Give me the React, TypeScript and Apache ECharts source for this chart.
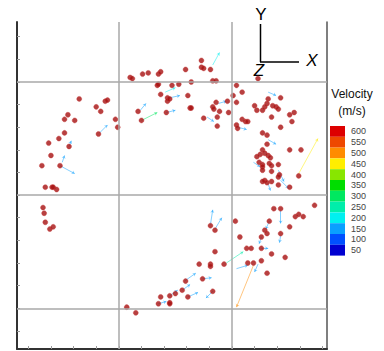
import React, { useEffect, useRef } from "react";
import * as echarts from "echarts";

// Particle positions (mm)
const dots: [number, number][] = [
  [-65, 107], [-59, 107], [-58, 107], [-55, 105], [-67, 89], [-66, 84], [-65, 76], [-61, 70], [-58, 72],
  [-68, 126], [-52, 126], [-60, 135], [-62, 146], [-44, 143], [-53, 150], [-48, 155], [-45, 171], [-48, 167],
  [-39, 166], [-35, 185], [-20, 178], [-16, 174], [-12, 183], [-10, 184], [-3, 167], [-1, 160], [-18, 154],
  [17, 174], [20, 166], [10, 204], [12, 203], [21, 207], [26, 208], [35, 207], [37, 209], [34, 197], [35, 198],
  [47, 197], [53, 198], [37, 189], [43, 186], [43, 183], [45, 185], [61, 188], [63, 177], [42, 173], [59, 211],
  [73, 219], [73, 213], [75, 212], [81, 211], [83, 201], [86, 201], [64, 200], [104, 197], [123, 203], [109, 191],
  [101, 188], [86, 182], [96, 183], [104, 182], [83, 178], [84, 176], [89, 174], [64, 177], [97, 173], [87, 169],
  [75, 168], [87, 161], [104, 162], [105, 159], [109, 167], [112, 165], [114, 165], [132, 185], [131, 181],
  [129, 178], [143, 186], [136, 179], [139, 178], [141, 176], [120, 179], [122, 175], [127, 175], [135, 169],
  [151, 171], [155, 173], [153, 165], [143, 160], [127, 155], [131, 153], [131, 145], [151, 140], [161, 140],
  [127, 140], [129, 137], [125, 136], [122, 134], [132, 135], [134, 133], [124, 129], [127, 127], [133, 128],
  [135, 126], [127, 125], [127, 122], [135, 121], [141, 127], [142, 118], [141, 116], [129, 113], [131, 111],
  [127, 112], [135, 112], [141, 109], [151, 107], [159, 117],
  [173, 91], [137, 88], [143, 88], [156, 81], [159, 83], [163, 81], [133, 77], [151, 72], [129, 69], [131, 66],
  [126, 63], [143, 66], [103, 77], [107, 63], [81, 73], [85, 69], [113, 53], [117, 53], [126, 53], [85, 50],
  [135, 48], [147, 45], [93, 39], [114, 40], [119, 40], [126, 42], [131, 31], [71, 39], [81, 39], [81, 37],
  [74, 26], [59, 24], [56, 16], [83, 15], [61, 10], [50, 13], [45, 11], [37, 10], [35, 4], [45, 5], [45, 4],
  [7, 1], [15, -4],
];

// Velocity vectors: [x0, y0, x1, y1, speed m/s]
const arrows: [number, number, number, number, number][] = [
  [-52, 126, -39, 119, 150], [-50, 129, -48, 135, 150], [-44, 143, -42, 148, 150], [-17, 155, -10, 162, 150],
  [19, 175, 24, 181, 150], [20, 166, 34, 173, 300], [41, 191, 50, 195, 200], [45, 186, 54, 188, 150],
  [42, 173, 50, 175, 150], [83, 215, 89, 226, 200], [132, 191, 139, 188, 150], [88, 181, 95, 183, 150],
  [78, 169, 84, 165, 150], [105, 160, 113, 158, 150], [132, 149, 139, 145, 150], [119, 129, 125, 125, 150],
  [141, 122, 146, 112, 150], [143, 113, 150, 106, 150], [132, 110, 134, 104, 150], [159, 119, 176, 150, 450],
  [81, 74, 83, 87, 150], [85, 70, 91, 80, 150], [143, 86, 143, 75, 150], [143, 64, 142, 58, 150],
  [123, 39, 120, 32, 150], [104, 35, 114, 38, 150], [95, 40, 110, 50, 250], [119, 38, 104, 1, 500],
  [45, 11, 52, 16, 150], [58, 24, 68, 31, 150], [61, 10, 70, 14, 150], [35, 4, 42, 6, 150],
  [56, 16, 63, 21, 150], [74, 26, 82, 27, 150], [83, 15, 77, 9, 150], [126, 53, 132, 53, 150],
  [133, 77, 130, 70, 150], [126, 63, 124, 57, 150],
];

const speedLevels = [50, 100, 150, 200, 250, 300, 350, 400, 450, 500, 550, 600];
const speedColors = [
  "#0000d0", "#0050ff", "#0aa0ff", "#00f0f0", "#00eeaa", "#00e860",
  "#00dd00", "#88e600", "#ffee00", "#ff8c00", "#ee4800", "#dd0000",
];

const gridX = [0, 100];
const gridY = [0, 100, 200];
const ticksX = [-80, -60, -40, -20, 0, 20, 40, 60, 80, 100, 120, 140, 160, 180];
const ticksY = [-20, 0, 20, 40, 60, 80, 100, 120, 140, 160, 180, 200, 220, 240];

function colorFor(v: number): string {
  let idx = 0;
  let best = Infinity;
  speedLevels.forEach((l, i) => {
    const d = Math.abs(l - v);
    if (d < best) { best = d; idx = i; }
  });
  return speedColors[idx];
}

export default function App() {
  const ref = useRef<HTMLDivElement>(null);
  useEffect(() => {
    document.body.style.margin = "0";
    const chart = echarts.init(ref.current!, undefined, { renderer: "svg" });
    const font = "Liberation Sans, Arial, sans-serif";
    chart.setOption({
      animation: false,
      backgroundColor: "#ffffff",
      grid: { left: 17, top: 22, width: 310, height: 327 },
      xAxis: {
        type: "value", min: -90, max: 184,
        axisLine: { show: true, onZero: false, lineStyle: { color: "#333", width: 2 } },
        axisTick: { show: true, inside: true, length: 3, customValues: ticksX, lineStyle: { color: "#999" } },
        axisLabel: { show: false },
        splitLine: { show: false },
      },
      yAxis: [
        {
          type: "value", min: -36, max: 253,
          axisLine: { show: true, onZero: false, lineStyle: { color: "#333", width: 2 } },
          axisTick: { show: true, inside: true, length: 3, customValues: ticksY, lineStyle: { color: "#999" } },
          axisLabel: { show: false },
          splitLine: { show: false },
        },
        {
          type: "value", min: -36, max: 253, position: "right",
          axisLine: { show: true, onZero: false, lineStyle: { color: "#555", width: 1.5 } },
          axisTick: { show: false },
          axisLabel: { show: false },
          splitLine: { show: false },
        },
      ],
      visualMap: {
        type: "piecewise",
        seriesIndex: 2,
        orient: "vertical",
        align: "left",
        left: 330,
        top: 126,
        padding: 0,
        itemWidth: 15,
        itemHeight: 10.8,
        itemGap: 0,
        itemSymbol: "rect",
        textGap: 6,
        hoverLink: false,
        selectedMode: false,
        pieces: speedLevels.map((l, i) => ({ min: l - 25, max: l + 25, label: String(l), color: speedColors[i] })),
        textStyle: { color: "#444", fontSize: 9, fontFamily: font },
      },
      series: [
        {
          type: "lines",
          coordinateSystem: "cartesian2d",
          z: 2,
          silent: true,
          symbol: ["none", "arrow"],
          symbolSize: 3,
          lineStyle: { width: 1, opacity: 0.5 },
          data: arrows.map((a) => ({
            coords: [[a[0], a[1]], [a[2], a[3]]],
            lineStyle: { color: colorFor(a[4]) },
          })),
        },
        {
          type: "scatter",
          z: 3,
          silent: true,
          symbol: "circle",
          symbolSize: 5,
          itemStyle: { color: "#a51010", borderColor: "#c83a3a", borderWidth: 0.5 },
          data: dots,
          markLine: {
            silent: true,
            symbol: "none",
            label: { show: false },
            lineStyle: { color: "#a8a8a8", width: 1.5, type: "solid" },
            data: [
              ...gridX.map((v) => ({ xAxis: v })),
              ...gridY.map((v) => ({ yAxis: v })),
            ],
          },
        },
        { type: "scatter", data: [] },
      ],
      graphic: [
        { type: "line", shape: { x1: 260.5, y1: 24, x2: 260.5, y2: 62 }, style: { stroke: "#000", lineWidth: 1.5 } },
        { type: "line", shape: { x1: 260, y1: 62, x2: 299, y2: 62 }, style: { stroke: "#000", lineWidth: 1.5 } },
        { type: "text", x: 261, y: 14, style: { text: "Y", font: `17px ${font}`, fill: "#000", align: "center", verticalAlign: "middle" } },
        { type: "text", x: 312, y: 60, style: { text: "X", font: `italic 17px ${font}`, fill: "#000", align: "center", verticalAlign: "middle" } },
        { type: "text", x: 259, y: 70, style: { text: "Z", font: `italic 17px ${font}`, fill: "#000", align: "center", verticalAlign: "middle" } },
        { type: "text", x: 352, y: 94, style: { text: "Velocity", font: `12px ${font}`, fill: "#111", align: "center", verticalAlign: "middle" } },
        { type: "text", x: 352, y: 111, style: { text: "(m/s)", font: `12px ${font}`, fill: "#111", align: "center", verticalAlign: "middle" } },
      ],
    });
    return () => chart.dispose();
  }, []);
  return <div ref={ref} style={{ width: 384, height: 351 }} />;
}
